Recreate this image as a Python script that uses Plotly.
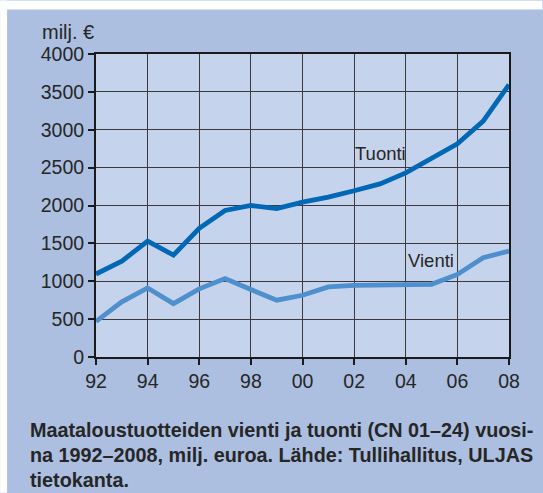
import plotly.graph_objects as go

years = list(range(1992, 2009))
tuonti = [1095, 1265, 1530, 1345, 1700, 1935, 2000, 1960, 2045, 2110, 2195, 2285, 2430, 2615, 2815, 3115, 3595]
vienti = [470, 728, 912, 705, 900, 1035, 890, 750, 815, 925, 945, 945, 945, 960, 1090, 1310, 1400]
x_tickvals = list(range(1992, 2009, 2))
x_ticktext = ["92", "94", "96", "98", "00", "02", "04", "06", "08"]
y_tickvals = list(range(0, 4001, 500))
caption_lines = [
    "Maataloustuotteiden vienti ja tuonti (CN 01–24) vuosi-",
    "na 1992–2008, milj. euroa. Lähde: Tullihallitus, ULJAS",
    "tietokanta.",
]

OUTER = "#ACBFE0"
INNER = "#C6D3EC"
TXT = "#262626"
W, H = 543, 493
L, R, T, B = 96, 509.5, 53.5, 357

def px(xp):
    return (xp - L) / (R - L)

def py(yp):
    return (B - yp) / (B - T)

fig = go.Figure()
fig.add_trace(go.Scatter(x=years, y=vienti, mode="lines",
                         line=dict(color="#4E8FCD", width=4.8), hoverinfo="skip"))
fig.add_trace(go.Scatter(x=years, y=tuonti, mode="lines",
                         line=dict(color="#0068B4", width=4.8), hoverinfo="skip"))

fig.update_layout(
    width=W, height=H,
    margin=dict(l=L, r=W - R, t=T, b=H - B, pad=0),
    paper_bgcolor=OUTER, plot_bgcolor=INNER,
    showlegend=False, hovermode=False,
    font=dict(family="Liberation Sans, Arial, sans-serif", color=TXT, size=19.5),
)
fig.update_xaxes(
    range=[1992, 2008], tickvals=x_tickvals, ticktext=x_ticktext,
    showgrid=True, gridcolor="#3a3a3a", gridwidth=1.2,
    showline=True, linecolor="#1a1a1a", linewidth=2, mirror=True,
    ticks="outside", ticklen=6, tickwidth=2, tickcolor="#1a1a1a",
    tickfont=dict(size=19.5, color=TXT), zeroline=False,
)
fig.update_yaxes(
    range=[0, 4000], tickvals=y_tickvals,
    showgrid=True, gridcolor="#3a3a3a", gridwidth=1.2,
    showline=True, linecolor="#1a1a1a", linewidth=2, mirror=True,
    ticks="outside", ticklen=6, tickwidth=2, tickcolor="#1a1a1a",
    tickfont=dict(size=19.5, color=TXT), zeroline=False,
)

# white border strips (top and left)
fig.add_shape(type="rect", xref="paper", yref="paper", x0=px(0), x1=px(W), y0=py(9), y1=py(0),
              fillcolor="white", line=dict(width=0), layer="above")
fig.add_shape(type="rect", xref="paper", yref="paper", x0=px(0), x1=px(7), y0=py(H), y1=py(0),
              fillcolor="white", line=dict(width=0), layer="above")

fig.add_annotation(text="milj. €", xref="paper", yref="paper", x=px(40), y=py(31),
                   xanchor="left", yanchor="middle", showarrow=False,
                   font=dict(size=20, color=TXT))
fig.add_annotation(text="Tuonti", x=2003.03, y=2690, xanchor="center", yanchor="middle",
                   showarrow=False, font=dict(size=18.5, color=TXT))
fig.add_annotation(text="Vienti", x=2004.96, y=1280, xanchor="center", yanchor="middle",
                   showarrow=False, font=dict(size=18.5, color=TXT))

for i, line in enumerate(caption_lines):
    fig.add_annotation(text="<b>" + line + "</b>", xref="paper", yref="paper",
                       x=px(28), y=py(430 + 25 * i), xanchor="left", yanchor="middle",
                       showarrow=False, font=dict(size=19.8, color=TXT))

fig.write_html("out.html", config={"displayModeBar": False, "staticPlot": True},
               post_script="document.body.style.margin='0';document.body.style.overflow='hidden';")
